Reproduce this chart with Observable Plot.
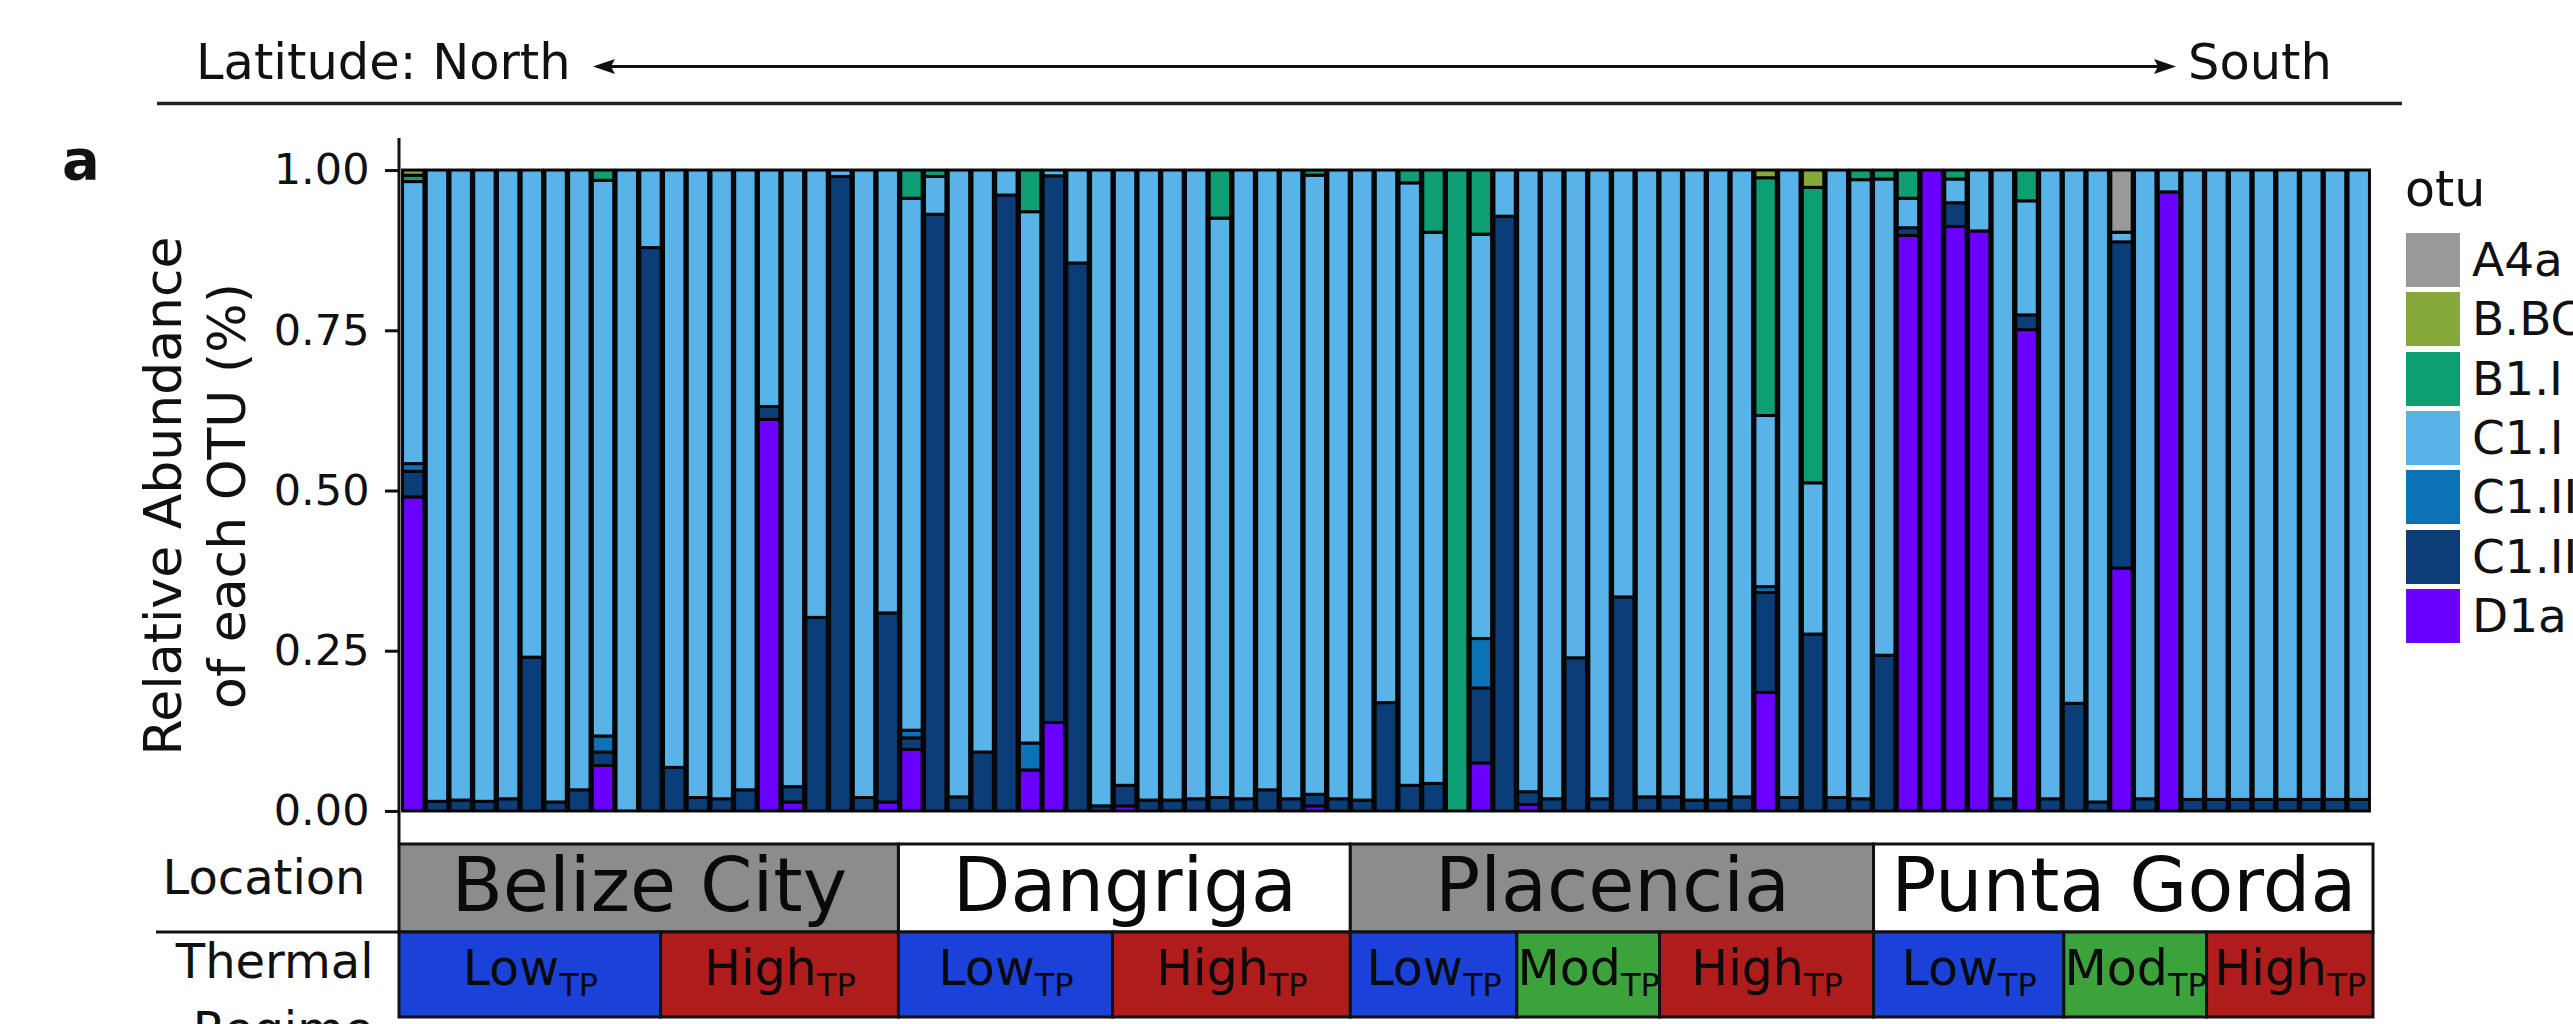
<!DOCTYPE html>
<html><head><meta charset="utf-8">
<script src="https://cdn.jsdelivr.net/npm/d3@7"></script>
<script src="https://cdn.jsdelivr.net/npm/@observablehq/plot@0.6"></script>
<style>
html,body{margin:0;padding:0;background:#fff;overflow:hidden;width:2573px;height:1024px;}
#root{position:relative;width:2573px;height:1024px;overflow:hidden;font-family:"DejaVu Sans",Verdana,sans-serif;color:#111;}
#root > *{position:absolute;}
</style></head><body><div id="root"></div>
<script>
// ---------- data ----------
const otuNames  = ["A4a","B.BC","B1.I","C1.I","C1.II","C1.III","D1a"];
const otuColors = ["#999999","#86A83B","#0E9E74","#58B3E8","#0B72B5","#0B3E78","#6A00FF"];
const stackOrder = ["D1a","C1.III","C1.II","C1.I","B1.I","B.BC","A4a"]; // bottom -> top

const D1a = [0.49,0,0,0,0,0,0,0,0.071,0,
  0,0,0,0,0,0.611,0.014,0,0,0,
  0.014,0.096,0,0,0,0,0.064,0.138,0,0,
  0.008,0,0,0,0,0,0,0,0.008,0,
  0,0,0,0,0,0.075,0,0.01,0,0,
  0,0,0,0,0,0,0,0.185,0,0,
  0,0,0,0.898,1.0,0.912,0.905,0,0.751,0,
  0,0,0.379,0,0.966,0,0,0,0,0,
  0,0,0];
const C1_III = [0.04,0.015,0.017,0.015,0.019,0.24,0.014,0.033,0.021,0,
  0.879,0.068,0.021,0.019,0.033,0.02,0.024,0.302,0.99,0.021,
  0.295,0.018,0.931,0.022,0.092,0.961,0,0.853,0.855,0.008,
  0.032,0.017,0.017,0.019,0.021,0.019,0.033,0.019,0.018,0.019,
  0.017,0.169,0.04,0.043,0,0.117,0.928,0.02,0.019,0.239,
  0.019,0.334,0.022,0.022,0.017,0.017,0.022,0.156,0.021,0.276,
  0.021,0.019,0.243,0.012,0,0.037,0,0.019,0.023,0.019,
  0.168,0.014,0.509,0.019,0,0.018,0.018,0.018,0.018,0.018,
  0.018,0.018,0.018];
const C1_II = [0.012,0,0,0,0,0,0,0,0.025,0,
  0,0,0,0,0,0,0,0,0,0,
  0,0.012,0,0,0,0,0.042,0,0,0,
  0,0,0,0,0,0,0,0,0,0,
  0,0,0,0,0,0.077,0,0,0,0,
  0,0,0,0,0,0,0,0.009,0,0,
  0,0,0,0,0,0,0,0,0,0,
  0,0,0,0,0,0,0,0,0,0,
  0,0,0];
const C1_I = [0.44,0.985,0.983,0.985,0.981,0.76,0.986,0.967,0.867,1.0,
  0.121,0.932,0.979,0.981,0.967,0.369,0.962,0.698,0.01,0.979,
  0.691,0.83,0.059,0.978,0.908,0.039,0.829,0.009,0.145,0.992,
  0.96,0.983,0.983,0.981,0.904,0.981,0.967,0.981,0.966,0.981,
  0.983,0.831,0.94,0.86,0,0.631,0.072,0.97,0.981,0.761,
  0.981,0.666,0.978,0.978,0.983,0.983,0.978,0.267,0.979,0.236,
  0.979,0.966,0.743,0.046,0,0.037,0.095,0.981,0.178,0.981,
  0.832,0.986,0.015,0.981,0.034,0.982,0.982,0.982,0.982,0.982,
  0.982,0.982,0.982];
const B1_I = [0.01,0,0,0,0,0,0,0,0.016,0,
  0,0,0,0,0,0,0,0,0,0,
  0,0.044,0.01,0,0,0,0.065,0,0,0,
  0,0,0,0,0.075,0,0,0,0.008,0,
  0,0,0.02,0.097,1.0,0.10,0,0,0,0,
  0,0,0,0,0,0,0,0.371,0,0.461,
  0,0.015,0.014,0.044,0,0.014,0,0,0.048,0,
  0,0,0,0,0,0,0,0,0,0,
  0,0,0];
const B_BC = [0.008,0,0,0,0,0,0,0,0,0,
  0,0,0,0,0,0,0,0,0,0,
  0,0,0,0,0,0,0,0,0,0,
  0,0,0,0,0,0,0,0,0,0,
  0,0,0,0,0,0,0,0,0,0,
  0,0,0,0,0,0,0,0.012,0,0.027,
  0,0,0,0,0,0,0,0,0,0,
  0,0,0,0,0,0,0,0,0,0,
  0,0,0];
const A4a = [0,0,0,0,0,0,0,0,0,0,
  0,0,0,0,0,0,0,0,0,0,
  0,0,0,0,0,0,0,0,0,0,
  0,0,0,0,0,0,0,0,0,0,
  0,0,0,0,0,0,0,0,0,0,
  0,0,0,0,0,0,0,0,0,0,
  0,0,0,0,0,0,0,0,0,0,
  0,0,0.097,0,0,0,0,0,0,0,
  0,0,0];

const samples = D1a.map((_, i) => "S" + String(i + 1).padStart(2, "0"));
const yTicks = [0, 0.25, 0.5, 0.75, 1];
const yLabel = "Relative Abundance\nof each OTU (%)";

const locations = ["Belize City","Dangriga","Placencia","Punta Gorda"];
const locCounts = [21, 19, 22, 21];
const locFills  = ["#8C8C8C","#FFFFFF","#8C8C8C","#FFFFFF"];

const regimeNames  = ["Low","High","Low","High","Low","Mod","High","Low","Mod","High"];
const regimeCounts = [11, 10, 9, 10, 7, 6, 9, 8, 6, 7];
const regimeColors = {Low: "#1A41D8", Mod: "#3CA23C", High: "#AF1C1C"};

// ---------- tables ----------
const series = {"A4a": A4a, "B.BC": B_BC, "B1.I": B1_I, "C1.I": C1_I, "C1.II": C1_II, "C1.III": C1_III, "D1a": D1a};
const rows = [];
for (const otu of stackOrder) series[otu].forEach((v, i) => { if (v > 0) rows.push({sample: samples[i], otu, value: v}); });

function spans(names, counts, extra) {
  const ends = d3.cumsum(counts);
  return names.map((n, i) => ({name: n, start: ends[i] - counts[i], end: ends[i], ...extra(n, i)}));
}
const locRows = spans(locations, locCounts, (n, i) => ({fill: locFills[i]}));
const regRows = spans(regimeNames, regimeCounts, (n) => ({fill: regimeColors[n], label: n + "_TP"}));

const font = "DejaVu Sans";
const root = document.getElementById("root");

// ---------- header ----------
const hdr = d3.create("svg").attr("width", 2573).attr("height", 200).style("left", "0px").style("top", "0px");
hdr.append("text").attr("x", 196).attr("y", 79).attr("font-family", font).attr("font-size", 49.5).attr("fill", "#111").text("Latitude: North");
hdr.append("text").attr("x", 2188).attr("y", 79).attr("font-family", font).attr("font-size", 49.5).attr("fill", "#111").text("South");
hdr.append("line").attr("x1", 600).attr("x2", 2168).attr("y1", 66.5).attr("y2", 66.5).attr("stroke", "#111").attr("stroke-width", 3);
hdr.append("path").attr("d", "M593,66.5 L615,59 L611,66.5 L615,74 Z").attr("fill", "#111");
hdr.append("path").attr("d", "M2176,66.5 L2154,59 L2158,66.5 L2154,74 Z").attr("fill", "#111");
hdr.append("line").attr("x1", 157).attr("x2", 2402).attr("y1", 103.5).attr("y2", 103.5).attr("stroke", "#222").attr("stroke-width", 3.4);
hdr.append("text").attr("x", 62).attr("y", 179).attr("font-family", font).attr("font-weight", "bold").attr("font-size", 56).attr("fill", "#111").text("a");

// ---------- main chart ----------
const main = Plot.plot({
  width: 2573, height: 843,
  marginLeft: 399, marginRight: 200, marginTop: 138, marginBottom: 0,
  x: {domain: samples, paddingInner: 0.1, paddingOuter: 0.15, axis: null},
  y: {domain: [-0.05, 1.05], axis: null},
  color: {domain: otuNames, range: otuColors},
  style: {fontFamily: font, background: "transparent", color: "#111"},
  marks: [
    Plot.barY(rows, Plot.stackY({x: "sample", y: "value", fill: "otu", order: stackOrder, stroke: "#050505", strokeWidth: 3})),
    Plot.axisY(yTicks, {tickFormat: d3.format(".2f"), tickSize: 14, tickPadding: 16, fontSize: 43, stroke: "#111", strokeWidth: 3, fill: "#111", label: null}),
    Plot.text([yLabel], {frameAnchor: "left", textAnchor: "middle", lineAnchor: "middle", rotate: -90, dx: -207, dy: 5, fontSize: 52, lineHeight: 1.22, fill: "#111"})
  ]
});
d3.select(main).append("line").attr("x1", 399).attr("x2", 399).attr("y1", 138).attr("y2", 843).attr("stroke", "#111").attr("stroke-width", 3);
main.style.left = "0px"; main.style.top = "0px";

// ---------- location strip ----------
const locPlot = Plot.plot({
  width: 2573, height: 92,
  marginLeft: 399, marginRight: 200, marginTop: 2, marginBottom: 2,
  x: {domain: [0, d3.sum(locCounts)], axis: null},
  y: {domain: [0, 1], axis: null},
  color: {type: "identity"},
  style: {fontFamily: font, background: "transparent", overflow: "visible"},
  marks: [
    Plot.rect(locRows, {x1: "start", x2: "end", y1: 0, y2: 1, fill: "fill", stroke: "#111", strokeWidth: 3}),
    Plot.text(locRows, {x: d => (d.start + d.end) / 2, y: 0.5, text: "name", fontSize: 75, dy: -2, fill: "#0a0a0a"}),
    Plot.text(["Location"], {frameAnchor: "left", textAnchor: "end", dx: -34, dy: -10, fontSize: 48, fill: "#111"})
  ]
});
locPlot.style.left = "0px"; locPlot.style.top = "842px";

// ---------- thermal regime strip ----------
const thPlot = Plot.plot({
  width: 2573, height: 160,
  marginLeft: 399, marginRight: 200, marginTop: 2, marginBottom: 73,
  x: {domain: [0, d3.sum(regimeCounts)], axis: null},
  y: {domain: [0, 1], axis: null},
  color: {type: "identity"},
  style: {fontFamily: font, background: "transparent", overflow: "visible"},
  marks: [
    Plot.rect(regRows, {x1: "start", x2: "end", y1: 0, y2: 1, fill: "fill", stroke: "#111", strokeWidth: 3}),
    Plot.text(regRows, {x: d => (d.start + d.end) / 2, y: 0.5, text: "label", fontSize: 49, dy: -6, fill: "#0a0a0a"}),
    Plot.text(["Thermal\nRegime"], {frameAnchor: "top-left", textAnchor: "end", lineAnchor: "top", dx: -26, dy: -3, fontSize: 48, lineHeight: 1.42, fill: "#111"})
  ]
});
d3.select(thPlot).selectAll("text").filter(function () { return /_TP$/.test(this.textContent); }).each(function () {
  const [base, sub] = this.textContent.split("_");
  const t = d3.select(this);
  t.text(null);
  t.append("tspan").text(base);
  t.append("tspan").attr("font-size", 32).attr("dy", 11).text(sub);
});
thPlot.style.left = "0px"; thPlot.style.top = "930px";

// separator line under "Location"
const sep = d3.create("svg").attr("width", 2573).attr("height", 10).style("left", "0px").style("top", "927px");
sep.append("line").attr("x1", 156).attr("x2", 400).attr("y1", 5).attr("y2", 5).attr("stroke", "#111").attr("stroke-width", 3);

// ---------- legend ----------
const leg = document.createElement("div");
leg.style.left = "2405px"; leg.style.top = "0px"; leg.style.fontFamily = font; leg.style.whiteSpace = "nowrap";
const ttl = document.createElement("div");
ttl.textContent = "otu";
Object.assign(ttl.style, {position: "absolute", left: "0px", top: "160px", fontSize: "49px", lineHeight: "60px"});
leg.appendChild(ttl);
otuNames.forEach((n, i) => {
  const key = document.createElement("div");
  Object.assign(key.style, {position: "absolute", left: "1px", top: (233 + i * 59.3) + "px", width: "54px", height: "54px", background: otuColors[i]});
  const lab = document.createElement("div");
  lab.textContent = n;
  Object.assign(lab.style, {position: "absolute", left: "67px", top: (233 + i * 59.3 - 3) + "px", fontSize: "47px", lineHeight: "60px"});
  leg.appendChild(key); leg.appendChild(lab);
});

root.appendChild(main);
root.appendChild(locPlot);
root.appendChild(thPlot);
root.appendChild(sep.node());
root.appendChild(hdr.node());
root.appendChild(leg);
</script></body></html>
